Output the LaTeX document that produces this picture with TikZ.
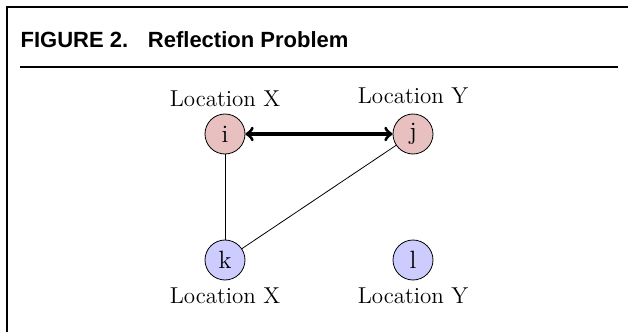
\documentclass[tikz,border=0pt]{standalone}
\usepackage{fontspec}
\newfontfamily\headfont{Liberation Sans}
\usepackage{xcolor}
\usepackage{tikz}
\usetikzlibrary{arrows,automata}

\definecolor{locpink}{RGB}{232,192,192}
\definecolor{locblue}{RGB}{204,204,255}

\begin{document}
\begin{tikzpicture}[
    x = 0.5pt, y = -0.5pt, % pixel grid, y downwards
    > = to, % arrow head style
    shorten > = 0pt, % don't touch arrow head to node
    node distance = 94pt, % distance between nodes
    semithick % line style
]
\tikzstyle{every state}=[
    draw = black,
    thin,
    inner sep = 0pt,
    minimum size = 20pt,
    font = \fontsize{12.5}{14}\selectfont
]
\tikzstyle{every label}=[font = \fontsize{11.5}{13}\selectfont]
\tikzstyle{upper}=[state, fill = locpink]
\tikzstyle{lower}=[state, fill = locblue]

\useasboundingbox (0,0) rectangle (628,332);

% frame and heading
\draw[line width = 1pt] (7,332) -- (7,7) -- (628,7);
\node[anchor = base west, inner sep = 0pt] (title) at (20,47)
    {\headfont\bfseries\fontsize{11}{13}\selectfont FIGURE 2.\hspace{0.9em}Reflection Problem};
\draw[line width = 1pt] (20,67) -- (618,67);

\node[upper, label = {[yshift = 0pt]above:Location X}] (i) at (225,134) {i};
\node[upper, label = {[yshift = 1.5pt]above:Location Y}] (j) [right of=i] {j};
\node[lower, label = {below:Location X}] (k) [below of=i, node distance=63pt] {k};
\node[lower, label = {below:Location Y}] (l) [right of=k] {l};

\path[<->, line width = 1.6pt] (i) edge node {} (j);
\path[-, thin] (i) edge node {} (k);
\path[-, thin] (j) edge node {} (k);

\end{tikzpicture}
\end{document}
